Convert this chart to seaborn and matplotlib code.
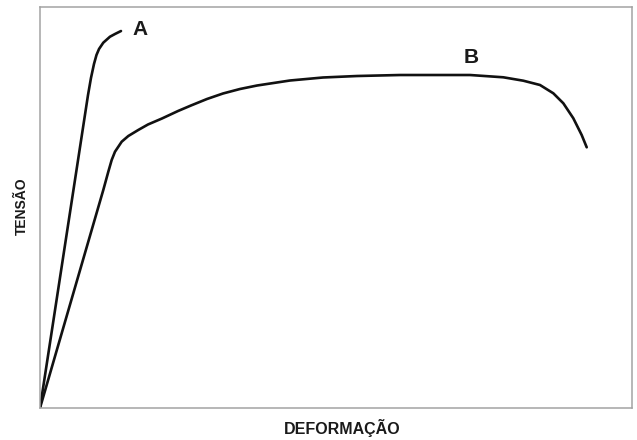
import matplotlib
matplotlib.use("Agg")
import matplotlib.pyplot as plt
import seaborn as sns
import pandas as pd

# Curve A (brittle material) – strain / stress in arbitrary units
strain_a = [0, 8.11, 8.61, 9.12, 9.54, 9.97, 10.69, 11.82, 12.67, 13.68]
stress_a = [0, 78.05, 82.29, 85.79, 88.03, 89.53, 91.10, 92.59, 93.27, 94.01]

# Curve B (ductile material)
strain_b = [0, 10.69, 11.54, 12.11, 12.67, 13.80, 14.92, 16.60, 18.24, 20.61,
            23.31, 25.51, 28.21, 30.91, 33.78, 36.66, 42.23, 47.80, 53.55,
            60.81, 67.57, 72.64, 78.26, 81.64, 84.46, 86.71, 88.40, 90.08,
            91.50, 92.35]
stress_b = [0, 54.36, 58.93, 61.85, 63.92, 66.41, 67.83, 69.33, 70.70, 72.20,
            74.06, 75.44, 77.06, 78.43, 79.55, 80.42, 81.67, 82.42, 82.79,
            83.04, 83.04, 83.04, 82.47, 81.62, 80.55, 78.48, 75.99, 72.27,
            68.08, 65.01]

curve_names = ["A", "B"]
label_pos_x = [16.98, 72.89]
label_pos_y = [94.4, 87.3]

x_label = "DEFORMAÇÃO"
y_label = "TENSÃO"

sns.set_style("white")
plt.rcParams["font.family"] = ["Liberation Sans", "DejaVu Sans"]

df = pd.concat([
    pd.DataFrame({"strain": strain_a, "stress": stress_a, "curve": "A"}),
    pd.DataFrame({"strain": strain_b, "stress": stress_b, "curve": "B"}),
], ignore_index=True)

fig = plt.figure(figsize=(6.37, 4.40), dpi=100)
ax = fig.add_axes([40 / 637, 32 / 440, 592 / 637, 401 / 440])

sns.lineplot(data=df, x="strain", y="stress", units="curve", estimator=None,
             sort=False, color="#111111", linewidth=1.9, ax=ax)
for ln in ax.get_lines():
    ln.set_solid_joinstyle("round")
    ln.set_solid_capstyle("round")

ax.set_xlim(0, 100)
ax.set_ylim(0, 100)
ax.set_xticks([])
ax.set_yticks([])

for s in ax.spines.values():
    s.set_visible(True)
    s.set_color("#a3a3a3")
    s.set_linewidth(1.1)

for name, lx, ly in zip(curve_names, label_pos_x, label_pos_y):
    ax.text(lx, ly, name, ha="center", va="center", fontsize=15,
            fontweight="bold", color="#1a1a1a")

ax.set_xlabel(x_label, fontsize=11.5, fontweight="bold", color="#1a1a1a", va="center")
ax.set_ylabel(y_label, fontsize=10, fontweight="bold", color="#1a1a1a", va="center")
ax.xaxis.set_label_coords((342.5 - 40) / 592, (408 - 428) / 401)
ax.yaxis.set_label_coords((21.5 - 40) / 592, (408 - 206) / 401)

fig.savefig("out.png", dpi=100)
